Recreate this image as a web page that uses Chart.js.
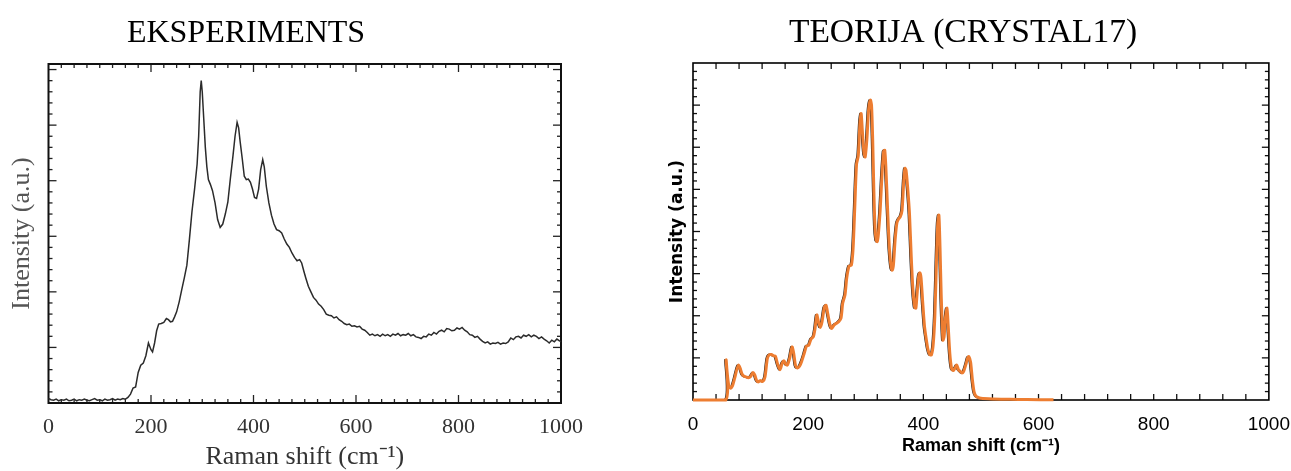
<!DOCTYPE html>
<html><head><meta charset="utf-8">
<script src="https://cdn.jsdelivr.net/npm/chart.js@4/dist/chart.umd.min.js"></script>
<style>
html,body{margin:0;padding:0;background:#fff;width:1291px;height:471px;overflow:hidden;position:relative}
#c1{position:absolute;left:0;top:0}
#c2{position:absolute;left:640px;top:0}
</style></head><body>
<canvas id="c1" width="640" height="471"></canvas>
<canvas id="c2" width="663" height="471"></canvas>
<script>
// ---------- DATA ----------
const xTickLabels = ['0', '200', '400', '600', '800', '1000'];
const leftTitle = 'EKSPERIMENTS';
const rightTitle = 'TEORIJA (CRYSTAL17)';
const xAxisTitle = 'Raman shift (cm⁻¹)';
const yAxisTitle = 'Intensity (a.u.)';

// Experimental Raman spectrum (left panel)
const expShift = [0,5,10,15,20,25,30,35,40,45,50,55,60,65,70,75,80,85,90,95,100,105,110,115,120,125,130,135,140,145,150,155,160,165,170,175,180,185,190,195,200,203,207,211,215,220,225,230,234,238,242,246,250,255,260,265,270,275,280,285,290,293,296,298,300,303,306,309,312,316,320,325,330,335,340,345,350,355,360,364,368,371,374,378,382,386,390,394,398,402,406,410,414,418,421,425,430,435,440,445,450,455,460,465,470,475,480,485,490,494,498,502,507,512,517,522,527,532,537,542,547,552,557,562,567,572,577,582,587,592,597,602,607,612,617,622,627,632,637,642,647,652,657,662,667,672,677,682,687,692,697,702,707,712,717,722,727,732,737,742,747,752,757,762,767,772,777,782,787,792,797,802,807,812,817,822,827,832,837,842,847,852,857,862,867,872,877,882,887,892,897,902,907,912,917,922,927,932,937,942,947,952,957,962,967,972,977,982,987,992,997,1000];
const expIntensity = [0.08,0.06,0.05,0.07,0.04,0.06,0.05,0.07,0.04,0.05,0.07,0.04,0.06,0.05,0.07,0.05,0.04,0.06,0.08,0.05,0.06,0.04,0.07,0.05,0.06,0.08,0.05,0.07,0.06,0.08,0.07,0.10,0.16,0.27,0.29,0.55,0.68,0.72,0.85,1.08,0.96,0.92,1.08,1.30,1.42,1.43,1.45,1.52,1.50,1.46,1.47,1.55,1.64,1.82,2.04,2.25,2.48,2.95,3.45,3.85,4.30,4.80,5.60,5.80,5.60,5.10,4.60,4.25,4.02,3.93,3.82,3.60,3.30,3.16,3.22,3.40,3.62,4.05,4.45,4.80,5.05,4.95,4.70,4.40,4.08,4.02,4.03,3.97,3.85,3.70,3.68,3.85,4.20,4.38,4.25,3.90,3.60,3.38,3.22,3.12,3.10,3.06,2.95,2.86,2.80,2.70,2.62,2.56,2.58,2.52,2.38,2.25,2.10,2.00,1.90,1.85,1.78,1.74,1.68,1.60,1.58,1.57,1.53,1.55,1.50,1.47,1.43,1.41,1.42,1.38,1.39,1.37,1.38,1.33,1.31,1.27,1.22,1.24,1.21,1.23,1.20,1.24,1.21,1.23,1.20,1.24,1.22,1.25,1.21,1.23,1.22,1.25,1.21,1.23,1.19,1.18,1.16,1.20,1.19,1.24,1.22,1.27,1.24,1.29,1.31,1.28,1.34,1.33,1.30,1.31,1.35,1.33,1.36,1.31,1.28,1.23,1.22,1.18,1.20,1.15,1.11,1.08,1.10,1.06,1.08,1.07,1.09,1.06,1.08,1.07,1.10,1.17,1.14,1.19,1.20,1.17,1.22,1.20,1.23,1.19,1.22,1.20,1.16,1.19,1.15,1.12,1.08,1.13,1.10,1.15,1.12,1.10];

// Computed spectrum (right panel) - orange curve
const theoryShift = [0,57,57.5,59,62,65,68,72,76,79,82,85,88,92,96,100,104,107,110,113,117,121,125,129,132,136,140,143,147,151,155,158,161,164,168,172,175,178,181,185,189,193,197,201,205,209,212,215,218,221,224,228,231,234,238,241,245,249,253,257,260,264,267,271,275,278,281,284,287,290,292,294,297,299,302,305,308,310,312,314,316,318,320,322,325,328,331,333,335,338,341,344,346,348,351,354,357,360,363,366,368,370,373,376,379,382,385,387,389,392,394,396,399,402,405,408,411,414,417,420,423,425,427,429,431,434,436,438,441,443,446,449,452,455,458,461,464,467,470,474,477,479,482,485,488,491,495,500,520,550,580,626];
const theoryIntensity = [0,0,0.95,0.70,0.35,0.28,0.32,0.50,0.72,0.83,0.75,0.62,0.57,0.55,0.53,0.56,0.65,0.60,0.48,0.43,0.46,0.44,0.55,0.98,1.07,1.08,1.05,1.04,0.85,0.72,0.88,0.93,0.85,0.83,1.00,1.26,1.10,0.82,0.76,0.80,0.93,1.10,1.28,1.30,1.45,1.50,1.70,2.02,1.85,1.72,1.85,2.20,2.25,2.05,1.78,1.70,1.78,1.82,1.86,1.94,2.30,2.50,2.90,3.18,3.20,3.60,4.60,5.60,5.80,6.60,6.80,6.40,5.85,5.77,6.20,6.90,7.12,7.00,6.20,5.00,4.10,3.80,3.76,3.95,4.50,5.30,5.90,5.93,5.50,4.50,3.60,3.15,3.08,3.20,3.80,4.20,4.30,4.35,4.50,5.20,5.50,5.45,5.00,4.40,3.40,2.60,2.20,2.18,2.50,2.95,3.02,2.90,2.30,1.75,1.45,1.20,1.08,1.07,1.30,2.00,3.40,4.20,4.39,3.60,2.50,1.42,1.50,1.90,2.18,1.80,1.10,0.75,0.70,0.76,0.83,0.72,0.68,0.64,0.68,0.85,1.00,1.03,0.90,0.50,0.20,0.10,0.06,0.04,0.025,0.015,0.01,0.005];
// Black reference curve (slightly to the left of the orange one)
const theoryShiftBlack = [0,55,55.5,57,60,63,66,70,74,77,80,83,86,90,94,98,102,105,108,111,115,119,123,127,130,134,138,141,145,149,153,156,159,162,166,170,173,176,179,183,187,191,195,199,203,207,210,213,216,219,222,226,229,232,236,239,243,247,251,255,258,262,265,269,273,276,279,282,285,288,290,292,295,297,300,303,306,308,310,312,314,316,318,320,323,326,329,331,333,336,339,342,344,346,349,352,355,358,361,364,366,368,371,374,377,380,383,385,387,390,392,394,397,400,403,406,409,412,415,418,421,423,425,427,429,432,434,436,439,441,444,447,450,453,456,459,462,465,468,472,475,477,480,483,486,489,493,498,518,548,578,600];

// ---------- PLUGINS ----------
const frameTicks = {
  id: 'frameTicks',
  beforeDatasetsDraw(chart, args, o) {
    const {ctx, chartArea: a, scales: {x, y}} = chart;
    ctx.save();
    const seg = (x1, y1, x2, y2) => { ctx.beginPath(); ctx.moveTo(x1, y1); ctx.lineTo(x2, y2); ctx.stroke(); };
    const isMajor = (v, m) => Math.abs(v / m - Math.round(v / m)) < 1e-6;
    ctx.strokeStyle = o.tickColor; ctx.lineWidth = o.tickWidth;
    for (let v = x.min + o.x.minor; v < x.max - 1e-6; v += o.x.minor) {
      const p = x.getPixelForValue(v);
      const len = isMajor(v, o.x.major) ? o.x.majorLen : o.x.minorLen;
      seg(p, a.bottom, p, a.bottom - len);
      seg(p, a.top, p, a.top + len);
    }
    for (let v = y.min + o.y.minor; v < y.max - 1e-6; v += o.y.minor) {
      const p = y.getPixelForValue(v);
      const len = isMajor(v, o.y.major) ? o.y.majorLen : o.y.minorLen;
      seg(a.left, p, a.left + len, p);
      seg(a.right, p, a.right - len, p);
    }
    ctx.strokeStyle = o.frameColor; ctx.lineWidth = o.frameWidth;
    ctx.strokeRect(a.left, a.top, a.right - a.left, a.bottom - a.top);
    ctx.restore();
  }
};
const titleAt = {
  id: 'titleAt',
  afterDraw(chart, args, o) {
    const ctx = chart.ctx;
    ctx.save();
    ctx.font = o.font; ctx.fillStyle = o.color;
    ctx.textAlign = 'center'; ctx.textBaseline = 'alphabetic';
    ctx.fillText(o.text, o.x, o.y);
    ctx.restore();
  }
};

const serif = '"Liberation Serif", "Times New Roman", serif';
const sans = '"Liberation Sans", Arial, sans-serif';

// ---------- LEFT CHART ----------
new Chart(document.getElementById('c1'), {
  type: 'line',
  data: {
    datasets: [{
      data: expShift.map((v, i) => ({x: v, y: expIntensity[i]})),
      borderColor: '#2b2b2b', borderWidth: 1.5, pointRadius: 0, tension: 0, fill: false, clip: 4
    }]
  },
  options: {
    responsive: false, animation: false, devicePixelRatio: 1,
    layout: {padding: {top: 64, right: 79, bottom: 0, left: 0}},
    plugins: {
      legend: {display: false}, tooltip: {enabled: false}, title: {display: false},
      titleAt: {text: leftTitle, font: '32px ' + serif, color: '#000', x: 246, y: 42},
      frameTicks: {frameWidth: 2, frameColor: '#111', tickColor: '#222', tickWidth: 1.3,
        x: {major: 200, minor: 25, majorLen: 8, minorLen: 4},
        y: {major: 1, minor: 0.2, majorLen: 8, minorLen: 4}}
    },
    scales: {
      x: {
        type: 'linear', min: 0, max: 1000, position: 'bottom',
        grid: {display: false, drawTicks: false}, border: {display: false},
        ticks: {stepSize: 200, autoSkip: false, maxRotation: 0, padding: 11, color: '#333',
          font: {family: serif, size: 22},
          callback: (v) => xTickLabels[Math.round(v / 200)] ?? ''},
        title: {display: true, text: xAxisTitle, color: '#333',
          font: {family: serif, size: 26, lineHeight: 1}, padding: {top: 0, bottom: 1}},
        afterFit(s) { s.height = 68; }
      },
      y: {
        type: 'linear', min: 0, max: 6.1,
        grid: {display: false, drawTicks: false}, border: {display: false},
        ticks: {display: false},
        title: {display: true, text: yAxisTitle, color: '#555',
          font: {family: serif, size: 26, lineHeight: 1}, padding: {top: 9, bottom: 0}},
        afterFit(s) { s.width = 48.5; }
      }
    }
  },
  plugins: [frameTicks, titleAt]
});

// ---------- RIGHT CHART ----------
new Chart(document.getElementById('c2'), {
  type: 'line',
  data: {
    datasets: [{
      data: theoryShift.map((v, i) => ({x: v, y: theoryIntensity[i]})),
      borderColor: '#ED7D31', borderWidth: 3.0, pointRadius: 0, tension: 0.25, fill: false, clip: 4
    }, {
      data: theoryShiftBlack.map((v, i) => ({x: v, y: theoryIntensity[i]})),
      borderColor: '#1a1a1a', borderWidth: 1.6, pointRadius: 0, tension: 0.25, fill: false, clip: 4
    }]
  },
  options: {
    responsive: false, animation: false, devicePixelRatio: 1,
    layout: {padding: {top: 63, right: 11, bottom: 0, left: 0}},
    plugins: {
      legend: {display: false}, tooltip: {enabled: false}, title: {display: false},
      titleAt: {text: rightTitle, font: '33.5px ' + serif, color: '#000', x: 323, y: 42},
      frameTicks: {frameWidth: 1.6, frameColor: '#000', tickColor: '#111', tickWidth: 1.3,
        x: {major: 200, minor: 40, majorLen: 6, minorLen: 6},
        y: {major: 1, minor: 0.2, majorLen: 7, minorLen: 4}}
    },
    scales: {
      x: {
        type: 'linear', min: 0, max: 1000, position: 'bottom',
        grid: {display: false, drawTicks: false}, border: {display: false},
        ticks: {stepSize: 200, autoSkip: false, maxRotation: 0, padding: 13, color: '#000',
          font: {family: sans, size: 19},
          callback: (v) => xTickLabels[Math.round(v / 200)] ?? ''},
        title: {display: true, text: xAxisTitle, color: '#000',
          font: {family: sans, size: 18, weight: 'bold', lineHeight: 1}, padding: {top: 0, bottom: 16}},
        afterFit(s) { s.height = 71; }
      },
      y: {
        type: 'linear', min: 0, max: 8,
        grid: {display: false, drawTicks: false}, border: {display: false},
        ticks: {display: false},
        title: {display: true, text: yAxisTitle, color: '#000',
          font: {family: '"DejaVu Sans", sans-serif', size: 17, weight: 'bold', lineHeight: 1}, padding: {top: 29, bottom: 0}},
        afterFit(s) { s.width = 53; }
      }
    }
  },
  plugins: [frameTicks, titleAt]
});
</script>
</body></html>
